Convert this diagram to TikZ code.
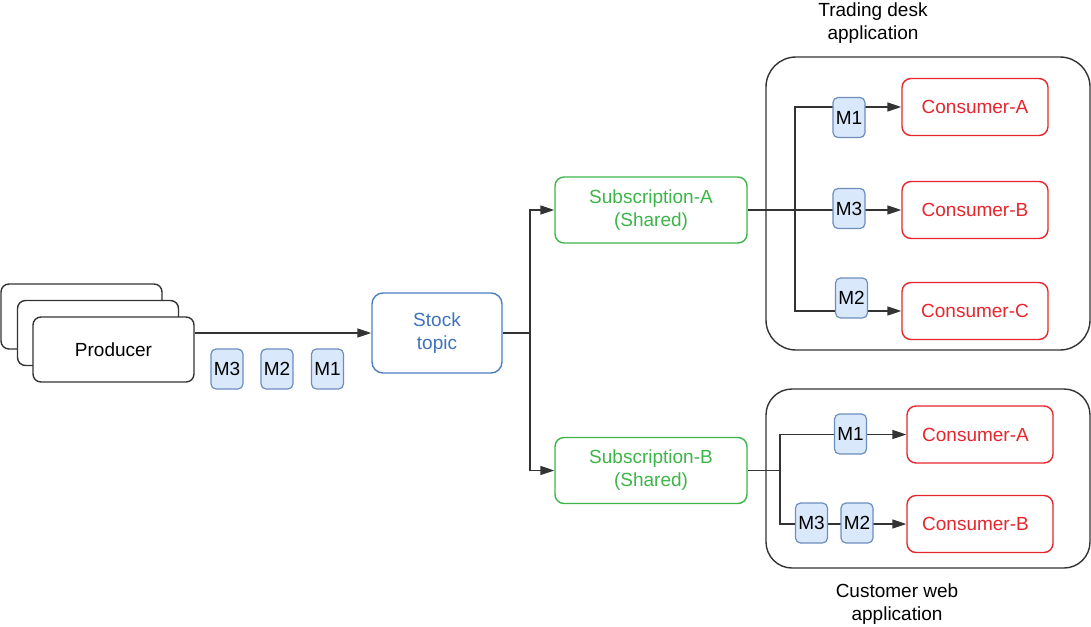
\documentclass[tikz,border=0pt]{standalone}
\usepackage{fontspec}
\setmainfont{Liberation Sans}
\usetikzlibrary{arrows.meta,backgrounds}
\definecolor{grn}{HTML}{3DB549}
\definecolor{rd}{HTML}{E6262D}
\definecolor{blu}{HTML}{4A7EC2}
\definecolor{bluT}{HTML}{3F73BC}
\definecolor{mfill}{HTML}{DAE8FC}
\definecolor{mdraw}{HTML}{6C8EBF}
\definecolor{ln}{HTML}{333333}
\begin{document}
\begin{tikzpicture}[x=1pt,y=-1pt,
  every node/.style={font=\fontsize{19}{23}\selectfont, align=center, inner sep=0pt},
  prodbox/.style={draw=ln, line width=1.4pt, fill=white, rounded corners=8pt, minimum width=161pt, minimum height=65pt},
  topicbox/.style={draw=blu, line width=1.4pt, fill=white, rounded corners=11pt, minimum width=130pt, minimum height=80pt, text=bluT},
  subbox/.style={draw=grn, line width=1.4pt, fill=white, rounded corners=9pt, minimum width=192pt, minimum height=66pt, text=grn},
  consbox/.style={draw=rd, line width=1.4pt, fill=white, rounded corners=9pt, minimum width=146pt, minimum height=57pt, text=rd},
  msg/.style={draw=mdraw, line width=1.2pt, fill=mfill, rounded corners=5pt, minimum width=32pt, minimum height=40pt},
  appbox/.style={draw=ln, line width=1.4pt, rounded corners=30pt},
  lbl/.style={text=black},
  conn/.style={draw=ln, line width=1.4pt},
  arr/.style={conn, -{Triangle[length=14pt,width=9pt]}}
]
\useasboundingbox (0,0) rectangle (1091,626);

% application containers
\node[appbox, minimum width=324pt, minimum height=293pt] (trade) at (928,203.5) {};
\node[appbox, minimum width=324pt, minimum height=179pt, rounded corners=26pt] (cust) at (928,478.5) {};
\node[lbl] (tradeL) at (873,23.5) {Trading desk\\application};
\node[lbl] (custL) at (897,604) {Customer web\\application};

% producers
\node[prodbox] (prod3) at (81.5,316.5) {};
\node[prodbox] (prod2) at (98,333) {};
\node[prodbox] (prod) at (113.5,349.5) {Producer};

\node[msg] (pm3) at (227,369) {M3};
\node[msg] (pm2) at (277,369) {M2};
\node[msg] (pm1) at (327.5,369) {M1};

\node[topicbox] (stock) at (437,333) {Stock\\topic};

\node[subbox] (subA) at (651,210) {Subscription-A\\(Shared)};
\node[subbox] (subB) at (651,470.5) {Subscription-B\\(Shared)};

% trading desk consumers
\node[consbox] (cA) at (975,107) {Consumer-A};
\node[consbox] (cB) at (975,210) {Consumer-B};
\node[consbox] (cC) at (975,311) {Consumer-C};
\node[msg] (tm1) at (849,117.5) {M1};
\node[msg] (tm3) at (849,208.5) {M3};
\node[msg] (tm2) at (851.5,298) {M2};

% customer web consumers
\node[consbox] (dA) at (980,434.5) {Consumer-A\hspace*{9pt}};
\node[consbox] (dB) at (980,524) {Consumer-B\hspace*{9pt}};
\node[msg] (dm1) at (850.5,434) {M1};
\node[msg] (dm3) at (811.5,523) {M3};
\node[msg] (dm2) at (857,523) {M2};

\coordinate (sj) at (530,333);
\coordinate (tj) at (795,210);
\coordinate (cj) at (780,470.5);

\begin{scope}[on background layer]
\draw[arr] (prod.east |- stock.west) -- (stock.west);
\draw[conn] (stock.east) -- (sj);
\draw[arr] (sj) |- (subA.west);
\draw[arr] (sj) |- (subB.west);
\draw[arr] (subA.east) -- (cB.west);
\draw[arr] (tj) |- (cA.west);
\draw[arr] (tj) |- (cC.west);
\draw[conn] (subB.east) -- (cj);
\draw[arr] (cj) |- (dA.west);
\draw[arr] (cj) |- (dB.west);
\end{scope}
\end{tikzpicture}
\end{document}
